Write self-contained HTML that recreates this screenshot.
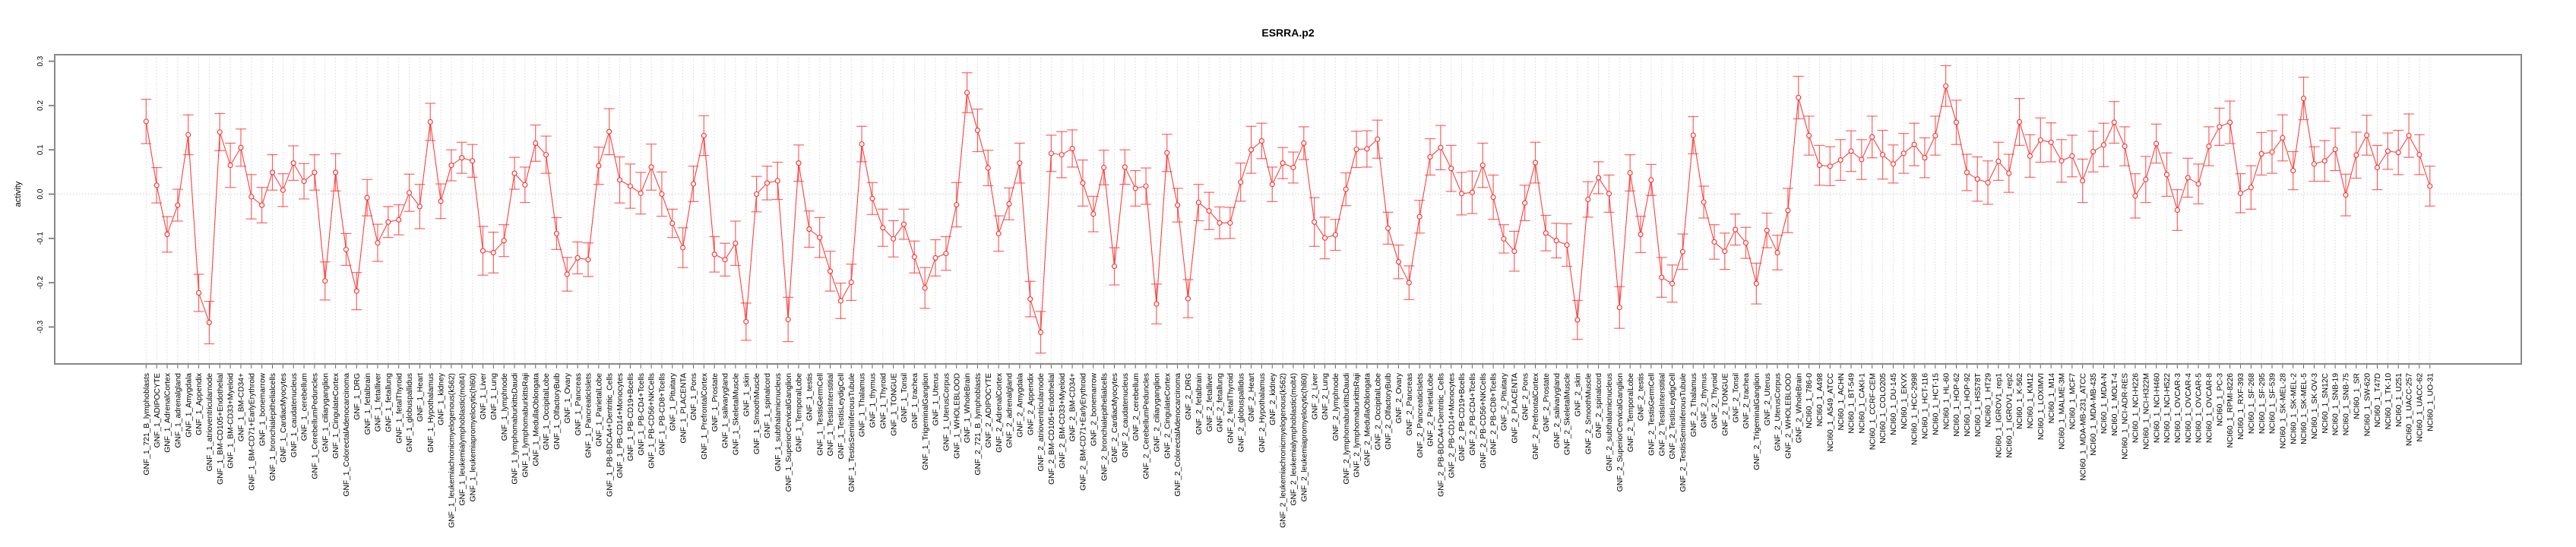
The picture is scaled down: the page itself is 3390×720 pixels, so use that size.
<!DOCTYPE html>
<html><head><meta charset="utf-8"><title>ESRRA.p2</title>
<style>
html,body{margin:0;padding:0;background:#fff;}
svg{display:block;font-family:"Liberation Sans",Arial,sans-serif;}
</style></head>
<body>
<svg id="chart" width="3390" height="720" viewBox="0 0 3390 720" xmlns="http://www.w3.org/2000/svg">
<rect x="0" y="0" width="3390" height="720" fill="#fff"/>
<text x="1695" y="48" text-anchor="middle" font-size="14" font-weight="bold" fill="#000">ESRRA.p2</text>
<g id="grid"></g>
<g id="yaxis"></g>
<g id="xaxis"></g>
<g id="series"></g>
<rect x="72" y="72" width="3246" height="407" fill="none" stroke="#888" stroke-width="2"/>
<text transform="translate(27,255.5) rotate(-90)" text-anchor="middle" font-size="11" fill="#000">activity</text>
</svg>
<script>
const tissues = ["721_B_lymphoblasts","ADIPOCYTE","AdrenalCortex","adrenalgland","Amygdala","Appendix","atrioventricularnode","BM-CD105+Endothelial","BM-CD33+Myeloid","BM-CD34+","BM-CD71+EarlyErythroid","bonemarrow","bronchialepithelialcells","CardiacMyocytes","caudatenucleus","cerebellum","CerebellumPeduncles","ciliaryganglion","CingulateCortex","ColorectalAdenocarcinoma","DRG","fetalbrain","fetalliver","fetallung","fetalThyroid","globuspallidus","Heart","Hypothalamus","kidney","leukemiachronicmyelogenous(k562)","leukemialymphoblastic(molt4)","leukemiapromyelocytic(hl60)","Liver","Lung","lymphnode","lymphomaburkittsDaudi","lymphomaburkittsRaji","MedullaOblongata","OccipitalLobe","OlfactoryBulb","Ovary","Pancreas","PancreaticIslets","ParietalLobe","PB-BDCA4+Dentritic_Cells","PB-CD14+Monocytes","PB-CD19+Bcells","PB-CD4+Tcells","PB-CD56+NKCells","PB-CD8+Tcells","Pituitary","PLACENTA","Pons","PrefrontalCortex","Prostate","salivarygland","SkeletalMuscle","skin","SmoothMuscle","spinalcord","subthalamicnucleus","SuperiorCervicalGanglion","TemporalLobe","testis","TestisGermCell","TestisInterstitial","TestisLeydigCell","TestisSeminiferousTubule","Thalamus","thymus","Thyroid","TONGUE","Tonsil","trachea","TrigeminalGanglion","Uterus","UterusCorpus","WHOLEBLOOD","WholeBrain"];
const nciLines = ["786-0","A498","A549_ATCC","ACHN","BT-549","CAKI-1","CCRF-CEM","COLO205","DU-145","EKVX","HCC-2998","HCT-116","HCT-15","HL-60","HOP-62","HOP-92","HS578T","HT29","IGROV1_rep1","IGROV1_rep2","K-562","KM12","LOXIMVI","M14","MALME-3M","MCF7","MDA-MB-231_ATCC","MDA-MB-435","MDA-N","MOLT-4","NCI-ADR-RES","NCI-H226","NCI-H322M","NCI-H460","NCI-H522","OVCAR-3","OVCAR-4","OVCAR-5","OVCAR-8","PC-3","RPMI-8226","RXF-393","SF-268","SF-295","SF-539","SK-MEL-28","SK-MEL-2","SK-MEL-5","SK-OV-3","SN12C","SNB-19","SNB-75","SR","SW-620","T47D","TK-10","U251","UACC-257","UACC-62","UO-31"];
const categories = tissues.map(t=>"GNF_1_"+t).concat(tissues.map(t=>"GNF_2_"+t)).concat(nciLines.map(t=>"NCI60_1_"+t));

const gnf1Values = [0.164,0.020,-0.091,-0.025,0.134,-0.223,-0.290,0.140,0.065,0.105,-0.006,-0.025,0.049,0.009,0.070,0.029,0.049,-0.196,0.049,-0.125,-0.219,-0.008,-0.110,-0.063,-0.058,0.003,-0.028,0.163,-0.016,0.065,0.082,0.075,-0.128,-0.132,-0.105,0.047,0.021,0.115,0.089,-0.089,-0.181,-0.144,-0.148,0.064,0.141,0.032,0.018,0.002,0.061,0.000,-0.066,-0.121,0.023,0.132,-0.136,-0.148,-0.111,-0.288,0.000,0.025,0.030,-0.283,0.070,-0.079,-0.098,-0.174,-0.241,-0.199,0.113,-0.010,-0.076,-0.101,-0.068,-0.142,-0.212,-0.144,-0.134,-0.024,0.229];
const gnf2Values = [0.144,0.059,-0.089,-0.022,0.070,-0.237,-0.312,0.092,0.089,0.103,0.025,-0.045,0.060,-0.163,0.061,0.013,0.018,-0.248,0.093,-0.025,-0.236,-0.019,-0.038,-0.065,-0.065,0.027,0.100,0.120,0.022,0.070,0.060,0.115,-0.063,-0.099,-0.092,0.011,0.101,0.102,0.124,-0.077,-0.153,-0.200,-0.051,0.084,0.105,0.058,0.001,0.004,0.065,-0.007,-0.101,-0.129,-0.020,0.071,-0.088,-0.105,-0.115,-0.284,-0.012,0.037,0.001,-0.256,0.048,-0.091,0.032,-0.188,-0.202,-0.130,0.133,-0.018,-0.108,-0.129,-0.080,-0.110,-0.202,-0.082,-0.132,-0.037,0.218];
const nciValues = [0.132,0.065,0.063,0.077,0.097,0.078,0.129,0.089,0.068,0.092,0.112,0.082,0.132,0.244,0.162,0.049,0.034,0.026,0.074,0.047,0.163,0.086,0.122,0.117,0.075,0.086,0.030,0.096,0.111,0.162,0.108,-0.004,0.033,0.114,0.044,-0.036,0.037,0.023,0.108,0.152,0.162,0.002,0.015,0.091,0.095,0.127,0.053,0.216,0.068,0.075,0.101,-0.002,0.088,0.133,0.060,0.097,0.094,0.132,0.089,0.018];
const values = gnf1Values.concat(gnf2Values).concat(nciValues);

const gnf1Errors = [0.050,0.040,0.040,0.036,0.045,0.042,0.048,0.042,0.050,0.042,0.050,0.040,0.040,0.037,0.039,0.040,0.040,0.043,0.042,0.036,0.042,0.041,0.042,0.035,0.034,0.042,0.050,0.042,0.039,0.035,0.035,0.037,0.055,0.046,0.036,0.036,0.040,0.041,0.042,0.036,0.038,0.036,0.038,0.042,0.052,0.052,0.050,0.047,0.052,0.050,0.032,0.045,0.040,0.045,0.040,0.037,0.050,0.042,0.040,0.038,0.042,0.050,0.041,0.041,0.045,0.045,0.040,0.041,0.040,0.036,0.042,0.041,0.034,0.036,0.046,0.041,0.038,0.050,0.045];
const gnf2Errors = [0.048,0.040,0.040,0.036,0.045,0.040,0.047,0.041,0.052,0.042,0.052,0.040,0.039,0.042,0.039,0.040,0.041,0.045,0.042,0.038,0.043,0.041,0.042,0.036,0.035,0.043,0.053,0.040,0.039,0.035,0.035,0.037,0.055,0.047,0.035,0.037,0.041,0.041,0.043,0.036,0.038,0.038,0.037,0.041,0.050,0.052,0.048,0.048,0.050,0.050,0.032,0.045,0.040,0.046,0.040,0.039,0.048,0.044,0.040,0.036,0.042,0.047,0.041,0.041,0.035,0.045,0.042,0.040,0.042,0.036,0.039,0.041,0.035,0.035,0.046,0.039,0.039,0.050,0.048];
const nciErrors = [0.044,0.045,0.044,0.046,0.046,0.045,0.047,0.055,0.043,0.045,0.048,0.045,0.044,0.046,0.050,0.041,0.050,0.049,0.043,0.043,0.053,0.048,0.050,0.044,0.048,0.047,0.049,0.046,0.049,0.047,0.044,0.050,0.052,0.044,0.049,0.046,0.044,0.045,0.044,0.042,0.048,0.044,0.049,0.048,0.048,0.052,0.043,0.048,0.039,0.046,0.048,0.047,0.052,0.045,0.050,0.041,0.050,0.049,0.045,0.045];
const errors = gnf1Errors.concat(gnf2Errors).concat(nciErrors);

const yTicks = [-0.3,-0.2,-0.1,0.0,0.1,0.2,0.3];
const yTickLabels = ["-0.3","-0.2","-0.1","0.0","0.1","0.2","0.3"];

const NS = "http://www.w3.org/2000/svg";
const PLOT_TOP = 72, PLOT_BOTTOM = 479;
function yScale(v){ return 255.5 - v*583; }
function xScale(i){ return 192.3 + i*13.85; }
function mk(tag, attrs, parent){
  const e = document.createElementNS(NS, tag);
  for (const k in attrs) e.setAttribute(k, attrs[k]);
  parent.appendChild(e); return e;
}
const grid = document.getElementById('grid');
const yaxis = document.getElementById('yaxis');
const xaxis = document.getElementById('xaxis');
const series = document.getElementById('series');

categories.forEach((c,i)=>{
  const l = mk('line',{x1:xScale(i),x2:xScale(i),y1:PLOT_TOP,y2:PLOT_BOTTOM,stroke:'#d8d8d8','stroke-width':1,'stroke-dasharray':'1.5,2.5'},grid);
  
  
});
const z = mk('line',{x1:72,x2:3318,y1:yScale(0),y2:yScale(0),stroke:'#cccccc','stroke-width':1,'stroke-dasharray':'1.5,2.5'},grid);



const yl = mk('line',{x1:72,x2:72,y1:yScale(0.3),y2:yScale(-0.3),stroke:'#666','stroke-width':1.5},yaxis);


yTicks.forEach((t,k)=>{
  const y = yScale(t);
  const tk = mk('line',{x1:64,x2:72,y1:y,y2:y,stroke:'#666','stroke-width':1.5},yaxis);
  
  
  const tx = mk('text',{transform:'translate(56,'+y+') rotate(-90)','text-anchor':'middle','font-size':10,fill:'#000'},yaxis);
  tx.textContent = yTickLabels[k];
  
  
});

const xl = mk('line',{x1:xScale(0),x2:xScale(categories.length-1),y1:PLOT_BOTTOM,y2:PLOT_BOTTOM,stroke:'#666','stroke-width':1.5},xaxis);


categories.forEach((c,i)=>{
  const x = xScale(i);
  const tk = mk('line',{x1:x,x2:x,y1:PLOT_BOTTOM,y2:PLOT_BOTTOM+6,stroke:'#666','stroke-width':1},xaxis);
  
  
  const tx = mk('text',{transform:'translate('+(x+3.6)+',491) rotate(-90)','text-anchor':'end','font-size':10.3,fill:'#000'},xaxis);
  tx.textContent = c;
  
  
});

let d = '';
values.forEach((v,i)=>{ d += (i?'L':'M') + xScale(i).toFixed(2) + ',' + yScale(v).toFixed(2); });
const path = mk('path',{d:d,fill:'none',stroke:'#ff2a2a','stroke-width':1.1,'stroke-opacity':0.9},series);



values.forEach((v,i)=>{
  const x = xScale(i), yt = yScale(v+errors[i]), yb = yScale(v-errors[i]), y = yScale(v);
  const g = mk('g',{stroke:'#ff3030','stroke-width':1.2,'stroke-opacity':0.75,fill:'none'},series);
  
  
  mk('line',{x1:x,x2:x,y1:yt,y2:yb},g);
  mk('line',{x1:x-7,x2:x+7,y1:yt,y2:yt},g);
  mk('line',{x1:x-7,x2:x+7,y1:yb,y2:yb},g);
  const c = mk('circle',{cx:x,cy:y,r:3,fill:'#fff',stroke:'#ff2a2a','stroke-width':1.1},series);
  
  
});
</script>
</body></html>
